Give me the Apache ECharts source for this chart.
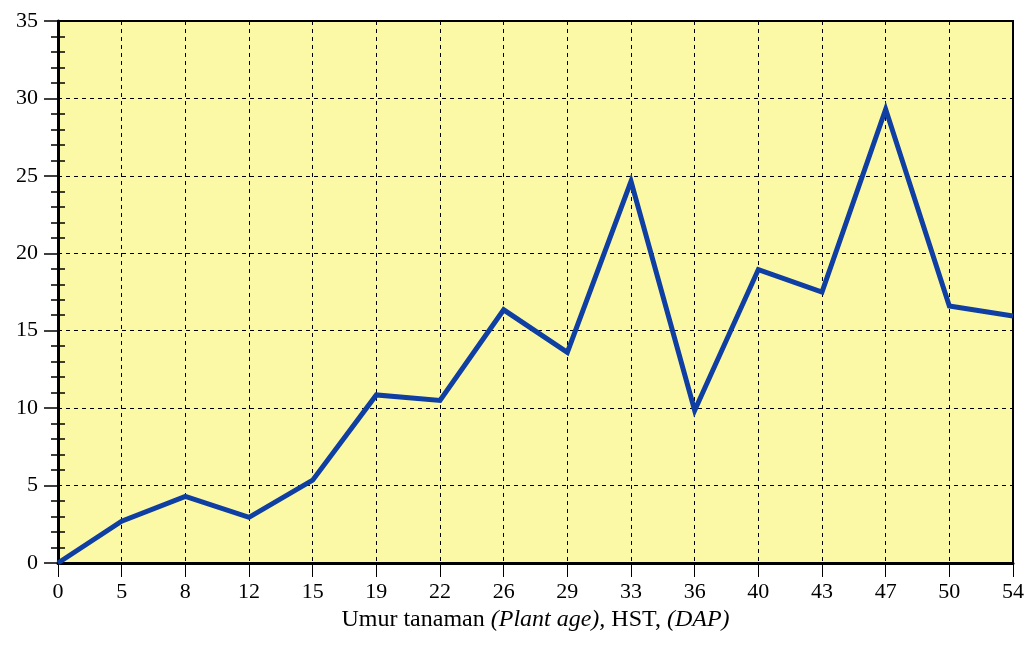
<!DOCTYPE html>
<html><head><meta charset="utf-8">
<script src="https://cdn.jsdelivr.net/npm/echarts@6/dist/echarts.min.js"></script>
<style>html,body{margin:0;padding:0;background:#fff}#c{width:1027px;height:646px}</style>
</head><body><div id="c"></div>
<script>
var categories = ['0','5','8','12','15','19','22','26','29','33','36','40','43','47','50','54'];
var values = [0, 2.7, 4.3, 2.95, 5.35, 10.85, 10.5, 16.35, 13.6, 24.65, 9.85, 18.95, 17.5, 29.3, 16.6, 15.95];
var yTicks = [0, 5, 10, 15, 20, 25, 30, 35];

var chart = echarts.init(document.getElementById('c'));
var font = 'Liberation Serif, Times New Roman, serif';
chart.setOption({
  animation: false,
  grid: { left: 58, right: 13, top: 21, bottom: 83, show: true, backgroundColor: '#fcf9a6', borderColor: '#000', borderWidth: 2 },
  xAxis: {
    type: 'category', data: categories, boundaryGap: false,
    axisLine: { lineStyle: { color: '#000', width: 3 } },
    axisTick: { show: true, length: 14, lineStyle: { color: '#000', width: 1 } },
    axisLabel: { color: '#000', fontFamily: font, fontSize: 22, margin: 18 },
    splitLine: { show: true, lineStyle: { color: '#000', type: [4, 4], width: 1 } },
    name: '{n|Umur tanaman }{i|(Plant age),}{n| HST, }{i|(DAP)}',
    nameLocation: 'middle', nameGap: 44,
    nameTextStyle: { rich: {
      n: { fontFamily: font, fontSize: 24, color: '#000' },
      i: { fontFamily: font, fontSize: 24, color: '#000', fontStyle: 'italic' }
    } }
  },
  yAxis: [{
    type: 'value', min: yTicks[0], max: yTicks[yTicks.length - 1], interval: 5,
    axisLine: { show: true, lineStyle: { color: '#000', width: 3 } },
    axisTick: { show: true, length: 14, lineStyle: { color: '#000', width: 1.5 } },
    minorTick: { show: true, splitNumber: 5, length: 7, lineStyle: { color: '#000', width: 1.5 } },
    axisLabel: { color: '#000', fontFamily: font, fontSize: 22, margin: 20 },
    splitLine: { show: true, lineStyle: { color: '#000', type: [4, 4], width: 1 } }
  }, {
    type: 'value', min: yTicks[0], max: yTicks[yTicks.length - 1], interval: 5, position: 'left',
    axisLine: { show: false },
    axisTick: { show: false, inside: true },
    minorTick: { show: true, splitNumber: 5, length: 7, lineStyle: { color: '#000', width: 1.5 } },
    axisLabel: { show: false },
    splitLine: { show: false }
  }],
  series: [{
    type: 'line', data: values, yAxisIndex: 0, symbol: 'none',
    lineStyle: { color: '#0f3fa3', width: 5, join: 'miter' }
  }]
});
</script></body></html>
